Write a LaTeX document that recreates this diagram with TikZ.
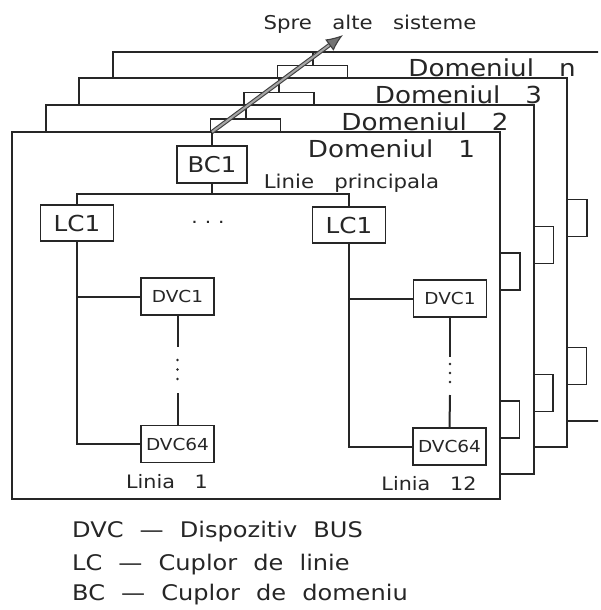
\documentclass[tikz,border=0pt]{standalone}
\usepackage{fontspec}
\setmainfont{DejaVu Sans}[FakeStretch=1.12, WordSpace=3]
\newfontfamily\legfont{DejaVu Sans}[FakeStretch=1.12, WordSpace=2.1]
\usetikzlibrary{arrows.meta}
\newcommand\myfs[1]{\fontsize{#1}{#1}\selectfont}
\begin{document}
\begin{tikzpicture}[x=1pt,y=-1pt,
  frame/.style={draw=black!85, line width=2pt, fill=white},
  wire/.style={draw=black!85, line width=2pt},
  box/.style={draw=black!85, line width=1.6pt, fill=white, inner sep=0pt, text=black!85},
  bcbox/.style={box, minimum width=70pt, minimum height=37pt, font=\myfs{21.7}},
  lcbox/.style={box, minimum width=73pt, minimum height=36pt, font=\myfs{22}},
  dvcbox/.style={box, minimum width=73pt, minimum height=37pt, font=\myfs{16.5}},
  domlab/.style={anchor=base, inner sep=0pt, text=black!85, font=\myfs{23.4}},
  txt/.style={anchor=base, inner sep=0pt, text=black!85, font=\myfs{#1}},
  legend/.style={anchor=base west, inner sep=0pt, text=black!85, font=\legfont\myfs{21.5}},
  dot/.style={fill=black!85},
  bigarrow/.style={draw=black!75, double=black!35, double distance=2pt, line width=1.1pt,
    -{Latex[length=17pt,width=14pt,fill=black!55]}}
]
\useasboundingbox (0,0) rectangle (600,610);
\clip (0,0) rectangle (598,610);

% domains behind
\foreach \k/\lab in {3/n, 2/3, 1/2} {
  \begin{scope}[shift={(33.5*\k,-26.8*\k)}]
    \draw[frame] (12,132) rectangle (500,501);
    \coordinate (top\k) at (212,132);
    \node[bcbox] (bc\k) at (212,164.5) {};
    \draw[wire] (bc\k.north) -- (top\k);
    \node[domlab] (dl\k) at (391.5,157) {Domeniul \lab};
    \node[dvcbox] (pa\k) at (450,298.5) {};
    \node[dvcbox] (pb\k) at (449.5,446.5) {};
  \end{scope}
}

% front domain
\draw[frame] (12,132) rectangle (500,499);
\coordinate (top0) at (212,132);
\node[domlab] (dl0) at (391.5,157) {Domeniul 1};
\node[bcbox] (bc0) at (212,164.5) {BC1};
\draw[wire] (bc0.north) -- (top0);
\node[txt=19] (lp) at (351.5,188) {Linie principala};

\coordinate (main) at (212,194);
\node[lcbox] (lcL) at (77,223) {LC1};
\node[lcbox] (lcR) at (349,225) {LC1};
\node[txt=18] (hd) at (208,223) {.\kern7pt.\kern7pt.};
\draw[wire] (bc0.south) -- (main);
\draw[wire] (lcL.north) |- (main) -| (lcR.north);

% line 1
\node[dvcbox] (d1L) at (177.5,296.5) {DVC1};
\node[dvcbox] (d64L) at (177.5,444) {DVC64};
\draw[wire] (lcL.south) |- (d64L.west);
\draw[wire] (d1L.west) -- (d1L.west -| lcL.south);
\coordinate (v1a) at (177.5,347);
\coordinate (v1b) at (177.5,393);
\draw[wire] (d1L.south) -- (v1a);
\draw[wire] (d64L.north) -- (v1b);
\fill[dot] (177.5,360) circle (1.4pt) (177.5,369.5) circle (1.4pt) (177.5,379) circle (1.4pt);
\node[txt=18.5] (l1) at (167,488) {Linia 1};

% line 12
\node[dvcbox] (d1R) at (450,298.5) {DVC1};
\node[dvcbox] (d64R) at (449.5,446.5) {DVC64};
\draw[wire] (lcR.south) |- (d64R.west);
\draw[wire] (d1R.west) -- (d1R.west -| lcR.south);
\coordinate (v2a) at (450,357);
\coordinate (v2b) at (450,395);
\draw[wire] (d1R.south) -- (v2a);
\draw[wire] (d64R.north) -- (v2b);
\fill[dot] (450,364) circle (1.4pt) (450,373) circle (1.4pt) (450,382) circle (1.4pt);
\node[txt=18.5] (l12) at (429,490) {Linia 12};

% arrow to other systems
\coordinate (tip) at (343,35);
\node[txt=19] (spre) at (370,30) {Spre alte sisteme};
\draw[bigarrow] (top0) -- (tip);

% legend
\node[legend] (lg1) at (72,537) {DVC — Dispozitiv BUS};
\node[legend] (lg2) at (72,570) {LC — Cuplor de linie};
\node[legend] (lg3) at (72,600) {BC — Cuplor de domeniu};
\end{tikzpicture}
\end{document}
